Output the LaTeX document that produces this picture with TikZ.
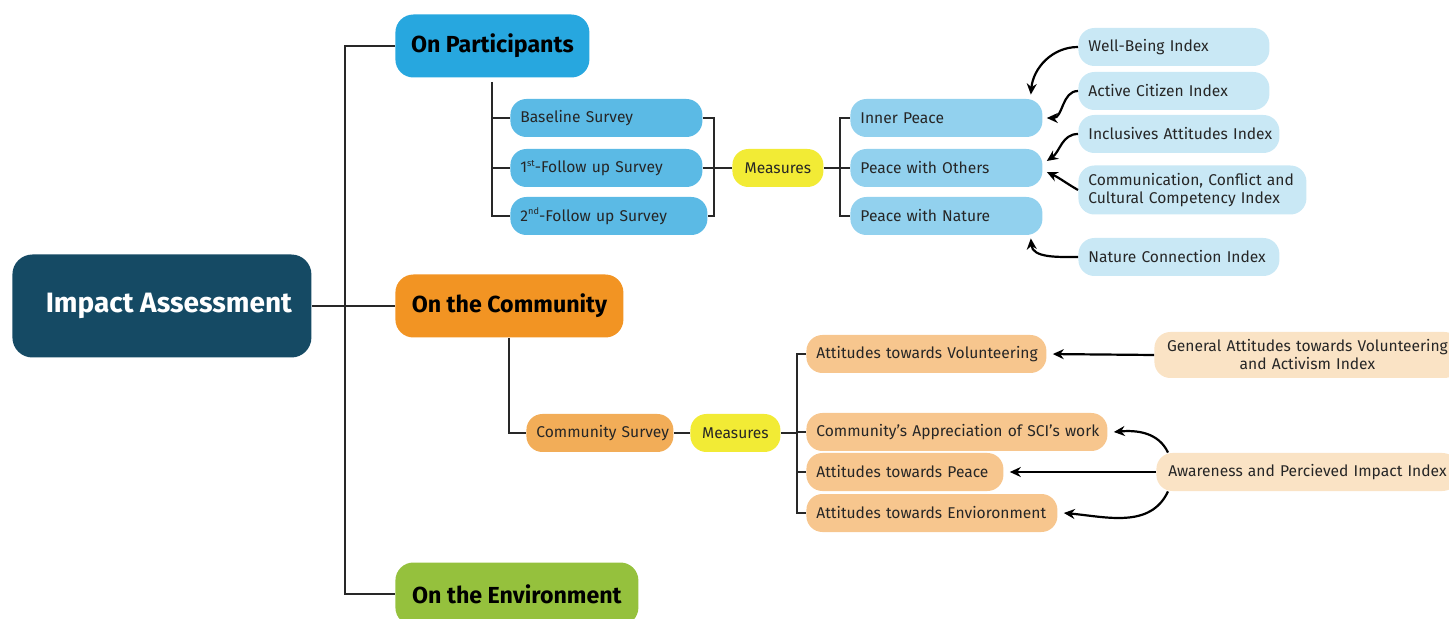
\documentclass[tikz,border=0pt]{standalone}
\usepackage{fontspec}
\setmainfont{Fira Sans}
\usepackage{tikz}
\usetikzlibrary{arrows.meta}

\definecolor{hubcol}{RGB}{21,74,100}
\definecolor{partcol}{RGB}{39,167,223}
\definecolor{commcol}{RGB}{242,148,35}
\definecolor{envcol}{RGB}{149,193,61}
\definecolor{survcol}{RGB}{91,186,229}
\definecolor{meascol}{RGB}{242,235,53}
\definecolor{aspcol}{RGB}{146,209,238}
\definecolor{idxcol}{RGB}{201,232,245}
\definecolor{csurvcol}{RGB}{242,173,88}
\definecolor{caspcol}{RGB}{247,198,142}
\definecolor{cidxcol}{RGB}{250,227,197}
\definecolor{linecol}{RGB}{40,40,40}

\newcommand{\sups}[1]{\raisebox{0.8ex}{\fontsize{4.6pt}{5pt}\selectfont #1}}

\tikzset{
  pill/.style={rounded corners=8pt, inner xsep=5pt, inner ysep=0pt, minimum height=19pt,
    anchor=west, text=black!85, font=\fontsize{7.8pt}{9pt}\selectfont},
  % one line, left aligned, may run into the right padding
  lpill/.style={pill, align=left, text width=#1,
    execute at begin node={\hbox\bgroup}, execute at end node={\egroup}},
  mpill/.style={pill, align=left, text width=#1},
  cpill/.style={pill, align=center, text width=#1},
  topic/.style={rounded corners=9pt, minimum height=31.5pt, minimum width=#1, anchor=west,
    font=\fontsize{11.6pt}{13pt}\selectfont\bfseries},
  link/.style={draw=linecol, line width=1pt},
  idxarrow/.style={draw=black, line width=1.1pt, -{Stealth[length=5.5pt,width=5pt]}}
}

\begin{document}
\begin{tikzpicture}[x=0.5pt, y=-0.5pt]
	%%%%% START %%%%%
	\useasboundingbox (0,0) rectangle (1449,619);
	
	\node[fill=hubcol, text=white, rounded corners=10pt, minimum width=149.5pt, minimum height=51.5pt,
	      anchor=west, font=\fontsize{14pt}{15pt}\selectfont\bfseries] (hub) at (12,306) {\hspace{7pt}Impact Assessment};
	
	\node[topic=97pt, fill=partcol] (part) at (395,46) {On Participants};
	\node[topic=114pt, fill=commcol] (comm) at (395,306) {On the Community};
	\node[topic=121.5pt, fill=envcol] (env) at (395,594) {On the Environment};
	
	\coordinate (trunk) at (345,306);
	\draw[link] (hub.east) -- (comm.west);
	\draw[link] (part.west) -| (trunk) |- (env.west);
	
	% participants: surveys and measures
	\node[lpill=86pt, fill=survcol] (base) at (510,118) {Baseline Survey};
	\node[lpill=86pt, fill=survcol] (fup1) at (510,168) {1\sups{st}-Follow up Survey};
	\node[lpill=88.5pt, fill=survcol] (fup2) at (510,216) {2\sups{nd}-Follow up Survey};
	\node[cpill=35.5pt, fill=meascol] (pmeas) at (732,168) {Measures};
	
	\draw[link] ([yshift=-2pt]part.south) |- (fup2.west);
	\draw[link] (base.west) -- (base.west -| part.south);
	\draw[link] (fup1.west) -- (fup1.west -| part.south);
	
	\coordinate (pjoin) at (714,168);
	\draw[link] (base.east) -| (pjoin) |- (fup2.east);
	\draw[link] (fup1.east) -- (pmeas.west);
	
	\node[lpill=86pt, fill=aspcol] (inner) at (850,118) {Inner Peace};
	\node[lpill=86pt, fill=aspcol] (others) at (850,168) {Peace with Others};
	\node[lpill=86pt, fill=aspcol] (nature) at (850,216) {Peace with Nature};
	
	\coordinate (ajoin) at (840,168);
	\draw[link] (pmeas.east) -- (others.west);
	\draw[link] (inner.west) -| (ajoin) |- (nature.west);
	
	\node[lpill=85.5pt, fill=idxcol] (wbi) at (1078,47) {Well-Being Index};
	\node[lpill=85.5pt, fill=idxcol] (aci) at (1078,91) {Active Citizen Index};
	\node[lpill=90.5pt, fill=idxcol] (iai) at (1078,134) {Inclusives Attitudes Index};
	\node[mpill=104pt, fill=idxcol, minimum height=24.5pt] (cci) at (1078,190)
	     {Communication, Conflict and\\Cultural Competency Index};
	\node[lpill=90.5pt, fill=idxcol] (nci) at (1078,257) {Nature Connection Index};
	
	\draw[idxarrow] (wbi.west) to[out=180, in=85] ([xshift=-6pt, yshift=2pt]inner.north east);
	\draw[idxarrow] (aci.west) to[out=180, in=0] ([xshift=2pt]inner.east);
	\draw[idxarrow] (iai.west) to[out=180, in=35] ([xshift=2pt, yshift=3.5pt]others.east);
	\draw[idxarrow] (cci.west) to[out=150, in=-25] ([xshift=2pt, yshift=-2pt]others.east);
	\draw[idxarrow] (nci.west) to[out=180, in=-85] ([xshift=-6pt, yshift=-1.5pt]nature.south east);
	
	% community: survey and measures
	\node[lpill=63.5pt, fill=csurvcol] (csurv) at (526,433) {Community Survey};
	\node[cpill=35pt, fill=meascol] (cmeas) at (690,433) {Measures};
	
	\draw[link] (comm.south) |- (csurv.west);
	\draw[link] (csurv.east) -- (cmeas.west);
	
	\node[lpill=110pt, fill=caspcol] (vol) at (806,354) {Attitudes towards Volunteering};
	\node[lpill=140.5pt, fill=caspcol] (appr) at (806,432) {Community’s Appreciation of SCI’s work};
	\node[lpill=88.5pt, fill=caspcol] (peace) at (806,472) {Attitudes towards Peace};
	\node[lpill=115.5pt, fill=caspcol] (envi) at (806,513) {Attitudes towards Envioronment};
	
	\coordinate (cjoin) at (797,433);
	\draw[link] (cmeas.east) -- (cjoin);
	\draw[link] (vol.west) -| (cjoin) |- (envi.west);
	\draw[link] (appr.west) -- (appr.west -| cjoin);
	\draw[link] (peace.west) -- (peace.west -| cjoin);
	
	\node[cpill=143pt, fill=cidxcol, minimum height=23pt] (gavi) at (1154,355)
	     {General Attitudes towards Volunteering\\and Activism Index};
	\node[cpill=141pt, fill=cidxcol] (api) at (1156,472) {Awareness and Percieved Impact Index};
	
	\draw[idxarrow, shorten >=3pt] (gavi.west) -- (vol.east);
	\draw[idxarrow] ([xshift=6pt]api.north west) to[out=115, in=5] ([xshift=3pt]appr.east);
	\draw[idxarrow, shorten >=3pt] (api.west) -- (peace.east);
	\draw[idxarrow] ([xshift=6pt]api.south west) to[out=245, in=-5] ([xshift=3pt]envi.east);
	
	%%%%% END %%%%%
\end{tikzpicture}
\end{document}
